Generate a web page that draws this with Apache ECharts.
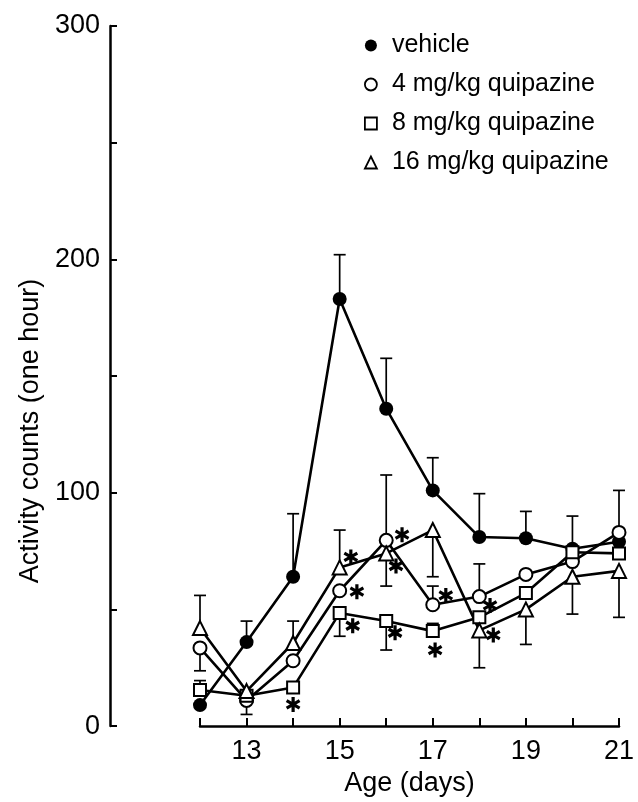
<!DOCTYPE html>
<html>
<head>
<meta charset="utf-8">
<script src="https://cdn.jsdelivr.net/npm/echarts@6/dist/echarts.min.js"></script>
<style>
  html, body { margin: 0; padding: 0; background: #fff; }
  #chart { width: 638px; height: 802px; }
</style>
</head>
<body>
<div id="chart"></div>
<script>
// 数据
const days = [12, 13, 14, 15, 16, 17, 18, 19, 20, 21];
const vehicle = [9, 36, 64, 183, 136, 101, 81, 80.5, 76, 79];
const mg4 = [33.5, 11, 28, 58, 79.6, 52, 55.5, 65, 70.5, 83];
const mg8 = [15.5, 13, 16.5, 48.5, 45, 40.7, 46.6, 57, 74.5, 74];
const mg16 = [42, 15, 35.6, 68, 74, 84, 41, 50, 64, 66.5];

// 误差线端点（null = 无）
const vehicleErr = [null, 45, 91, 202, 157.6, 115, 99.6, 92, 90, null];
const mg4Err = [23.7, 5, null, null, 107.6, 60, 69.5, null, null, 101];
const mg8Err = [19.5, null, null, 38.5, 32.6, 44, null, null, null, null];
const mg16Err = [56, null, 45, 84, 60, 64, 25, 35, 48, 46.6];

// 显著性星号位置 [day, value]
const sigMarks = [
  [14.0, 9.3], [15.24, 72.5], [15.37, 57.6], [15.28, 43],
  [16.34, 82], [16.21, 68.6], [16.19, 40], [17.28, 56],
  [17.05, 32.6], [18.23, 51.7], [18.3, 39]
];

const names = ['vehicle', '4 mg/kg quipazine', '8 mg/kg quipazine', '16 mg/kg quipazine'];
const font = "'Liberation Sans', Arial, sans-serif";

const chart = echarts.init(document.getElementById('chart'), null, { renderer: 'canvas' });

function pairs(vals) {
  return days.map((d, i) => [d, vals[i]]);
}

function errData(vals, ends) {
  const out = [];
  days.forEach((d, i) => {
    if (ends[i] != null) out.push([d, vals[i], ends[i]]);
  });
  return out;
}

const allErr = []
  .concat(errData(vehicle, vehicleErr))
  .concat(errData(mg4, mg4Err))
  .concat(errData(mg8, mg8Err))
  .concat(errData(mg16, mg16Err));

// 误差线：竖线 + 端帽
function renderErr(params, api) {
  const p0 = api.coord([api.value(0), api.value(1)]);
  const p1 = api.coord([api.value(0), api.value(2)]);
  const half = 6;
  const style = { stroke: '#000', lineWidth: 1.7 };
  return {
    type: 'group',
    children: [
      { type: 'line', shape: { x1: p0[0], y1: p0[1], x2: p1[0], y2: p1[1] }, style: style },
      { type: 'line', shape: { x1: p1[0] - half, y1: p1[1], x2: p1[0] + half, y2: p1[1] }, style: style }
    ]
  };
}

const openStyle = { color: '#fff', borderColor: '#000', borderWidth: 2 };
const lineStyle = { color: '#000', width: 2.6 };

const option = {
  backgroundColor: '#fff',
  animation: false,
  textStyle: { fontFamily: font, color: '#000' },
  legend: {
    orient: 'vertical',
    left: 359,
    top: 27,
    itemWidth: 12,
    itemHeight: 12,
    itemGap: 12,
    textStyle: { fontFamily: font, fontSize: 25, color: '#000', lineHeight: 27, padding: [0, 0, 0, 10] },
    data: [
      { name: names[0], icon: 'circle', itemStyle: { color: '#000', borderWidth: 0 } },
      { name: names[1], icon: 'circle', itemStyle: { color: '#fff', borderColor: '#000', borderWidth: 1.8 } },
      { name: names[2], icon: 'rect', itemStyle: { color: '#fff', borderColor: '#000', borderWidth: 1.8 } },
      { name: names[3], icon: 'triangle', itemStyle: { color: '#fff', borderColor: '#000', borderWidth: 1.8 } }
    ]
  },
  grid: { left: 200, right: 19, top: 26, bottom: 68 },
  xAxis: {
    type: 'value',
    min: 12,
    max: 21,
    interval: 1,
    name: 'Age (days)',
    nameLocation: 'middle',
    nameGap: 40,
    nameTextStyle: { fontFamily: font, fontSize: 27, color: '#000' },
    axisLine: { lineStyle: { color: '#000', width: 2.5 } },
    axisTick: { inside: true, length: 8, lineStyle: { color: '#000', width: 2 } },
    axisLabel: {
      fontFamily: font, fontSize: 27, color: '#000', margin: 12,
      formatter: v => (v % 2 === 1 ? String(v) : '')
    },
    splitLine: { show: false }
  },
  yAxis: {
    type: 'value',
    min: 0,
    max: 300,
    interval: 50,
    offset: 90,
    name: 'Activity counts (one hour)',
    nameLocation: 'middle',
    nameGap: 65,
    nameTextStyle: { fontFamily: font, fontSize: 27, color: '#000', padding: [0, 110, 0, 0] },
    axisLine: { show: true, lineStyle: { color: '#000', width: 2.5 } },
    axisTick: { inside: true, length: 7, lineStyle: { color: '#000', width: 2 } },
    axisLabel: {
      fontFamily: font, fontSize: 27, color: '#000', margin: 10,
      formatter: v => (v % 100 === 0 ? String(v) : '')
    },
    splitLine: { show: false }
  },
  series: [
    {
      type: 'custom',
      name: 'err',
      renderItem: renderErr,
      data: allErr,
      z: 1,
      silent: true
    },
    {
      name: names[0], type: 'line', data: pairs(vehicle), z: 3,
      symbol: 'circle', symbolSize: 14,
      itemStyle: { color: '#000' }, lineStyle: lineStyle
    },
    {
      name: names[1], type: 'line', data: pairs(mg4), z: 4,
      symbol: 'circle', symbolSize: 13,
      itemStyle: openStyle, lineStyle: lineStyle
    },
    {
      name: names[2], type: 'line', data: pairs(mg8), z: 4,
      symbol: 'rect', symbolSize: 12,
      itemStyle: openStyle, lineStyle: lineStyle
    },
    {
      name: names[3], type: 'line', data: pairs(mg16), z: 4,
      symbol: 'triangle', symbolSize: 14,
      itemStyle: openStyle, lineStyle: lineStyle
    },
    {
      name: 'sig', type: 'scatter', data: sigMarks, z: 5, silent: true,
      symbol: 'path://M5,0L5,10M0.67,2.5L9.33,7.5M0.67,7.5L9.33,2.5',
      symbolSize: 15,
      symbolKeepAspect: true,
      itemStyle: { color: 'none', borderColor: '#000', borderWidth: 3.2, opacity: 1 }
    }
  ]
};

chart.setOption(option);
</script>
</body>
</html>
